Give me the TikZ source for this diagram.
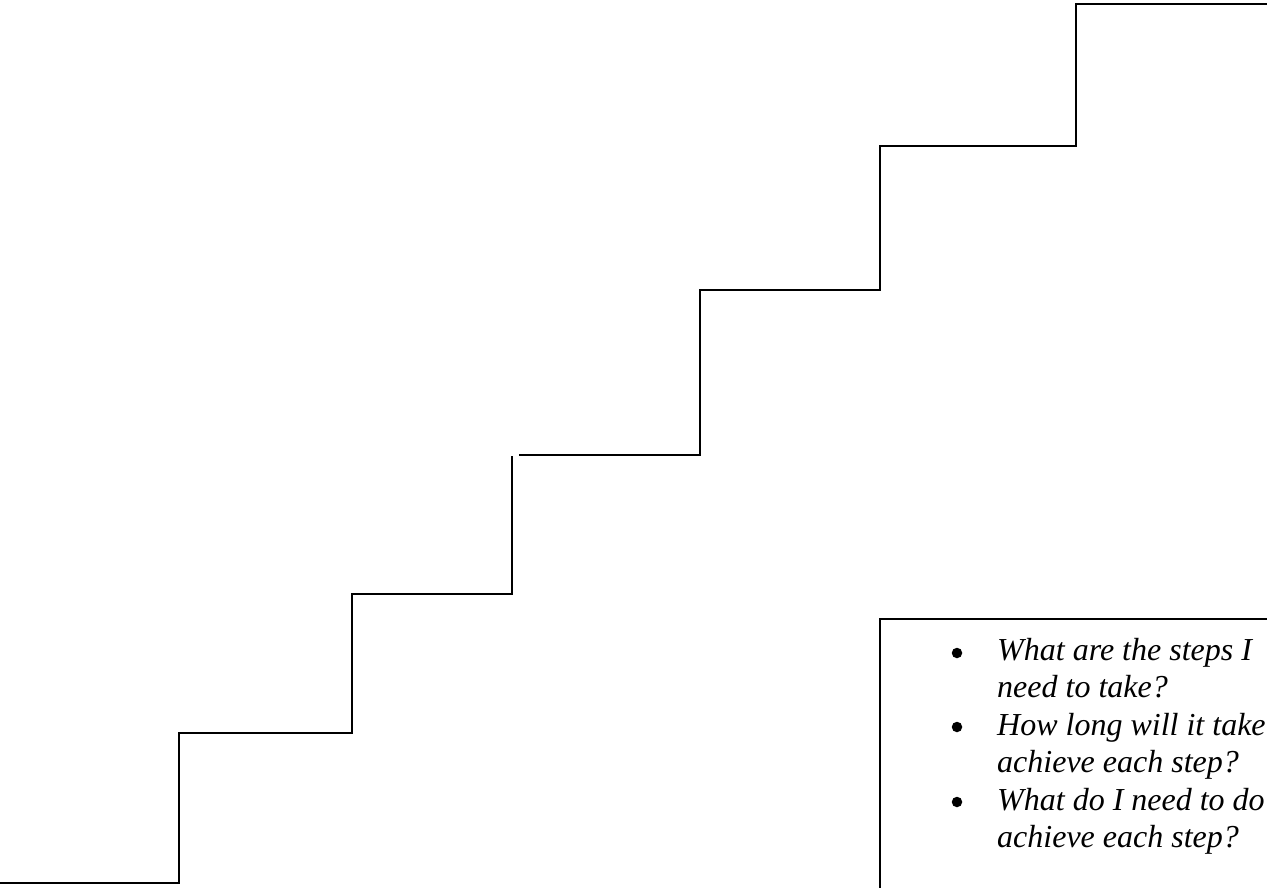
\documentclass[tikz,border=0pt]{standalone}
\usepackage{fontspec}
\setmainfont{Liberation Serif}
\begin{document}
\begin{tikzpicture}[x=1pt,y=-1pt,
  stair/.style={line width=2pt,line cap=rect,line join=miter},
  qtext/.style={anchor=base west,inner sep=0pt,font=\fontsize{32}{37}\selectfont\itshape},
  qbullet/.style={circle,fill=black,inner sep=0pt,minimum size=10.5pt}]
\useasboundingbox (0,0) rectangle (1267,888);
% staircase
\coordinate (s0) at (0,883);
\coordinate (s1) at (179,883);
\coordinate (s2) at (179,733);
\coordinate (s3) at (352,733);
\coordinate (s4) at (352,594);
\coordinate (s5) at (512,594);
\coordinate (s6) at (512,457);
\coordinate (t0) at (520,455);
\coordinate (t1) at (700,455);
\coordinate (t2) at (700,290);
\coordinate (t3) at (880,290);
\coordinate (t4) at (880,146);
\coordinate (t5) at (1076,146);
\coordinate (t6) at (1076,4.5);
\coordinate (t7) at (1267,4.5);
\draw[stair] (s0) -- (s1) -- (s2) -- (s3) -- (s4) -- (s5) -- (s6);
\draw[stair] (t0) -- (t1) -- (t2) -- (t3) -- (t4) -- (t5) -- (t6) -- (t7);
% text box
\coordinate (b0) at (880,890);
\coordinate (b1) at (880,619);
\coordinate (b2) at (1270,619);
\draw[line width=1.8pt] (b0) -- (b1) -- (b2);
\node[qbullet] (d1) at (957,653) {};
\node[qbullet] (d2) at (957,727) {};
\node[qbullet] (d3) at (957,802) {};
\node[qtext] (l1) at (997,660) {What are the steps I};
\node[qtext] (l2) at (997,697) {need to take?};
\node[qtext] (l3) at (997,735) {How long will it take};
\node[qtext] (l4) at (997,772) {achieve each step?};
\node[qtext] (l5) at (997,810) {What do I need to do};
\node[qtext] (l6) at (997,847) {achieve each step?};
\end{tikzpicture}
\end{document}
